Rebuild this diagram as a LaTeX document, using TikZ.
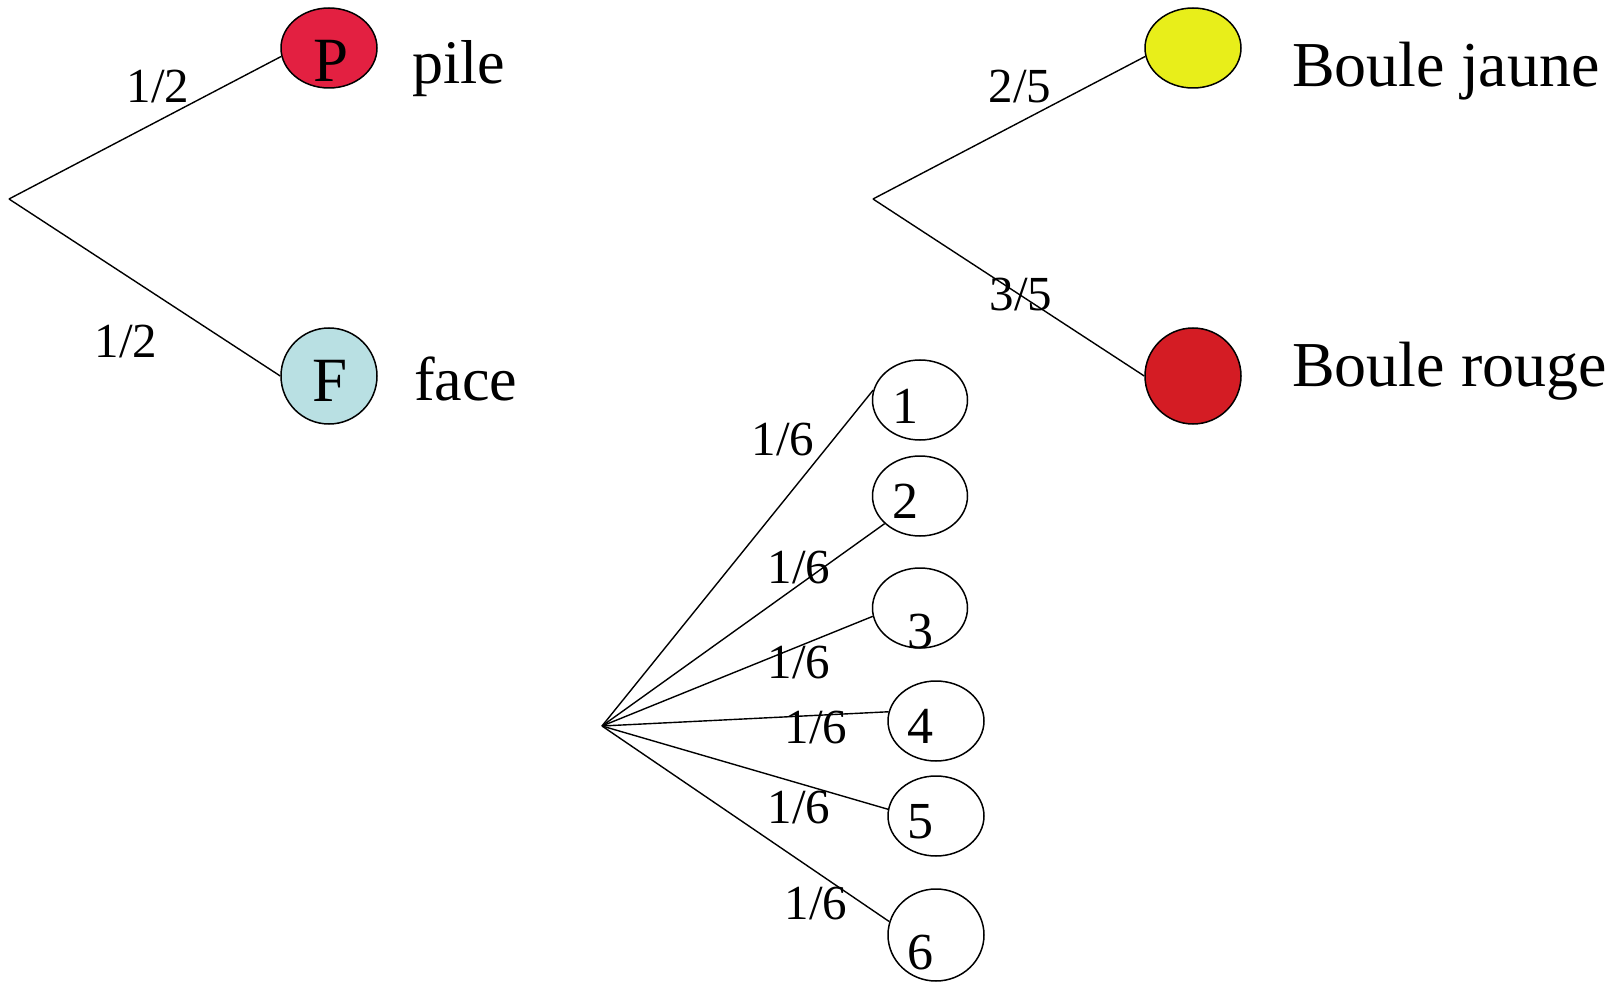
\documentclass[tikz,border=0pt]{standalone}
\usepackage{fontspec}
\setmainfont{Liberation Serif}
\usetikzlibrary{shapes.geometric}
\definecolor{pilered}{RGB}{227,32,65}
\definecolor{faceblue}{RGB}{185,224,227}
\definecolor{ballyellow}{RGB}{232,238,26}
\definecolor{ballred}{RGB}{212,28,36}
\begin{document}
\begin{tikzpicture}[x=1pt,y=-1pt,
  ball/.style={ellipse, draw, line width=1.5pt, inner sep=0pt, minimum width=96pt, minimum height=80pt},
  branch/.style={line width=1.4pt},
  prob/.style={anchor=base, inner sep=0pt, font=\fontsize{49}{58}\selectfont},
  inlbl/.style={anchor=base, inner sep=0pt, font=\fontsize{63}{74}\selectfont},
  digit/.style={anchor=base, inner sep=0pt, font=\fontsize{52}{62}\selectfont},
  side/.style={anchor=base west, inner sep=0pt, font=\fontsize{62}{74}\selectfont},
  bigside/.style={anchor=base west, inner sep=0pt, font=\fontsize{64}{77}\selectfont}
]
\useasboundingbox (0,0) rectangle (1615,984);

% ---------- coin tree ----------
\coordinate (r1) at (9,199);
\node[ball, fill=pilered] (P) at (329,48) {};
\node[ball, fill=faceblue, minimum height=96pt] (F) at (329,376) {};
\draw[branch] (r1) -- (P.190);
\draw[branch] (r1) -- (F.west);
\node[inlbl] (Pt) at (331,82) {P};
\node[inlbl] (Ft) at (330,402) {F};
\node[side] (pile) at (412,84) {pile};
\node[side] (face) at (414,400) {face};
\node[prob] (p1) at (158,103) {1/2};
\node[prob] (p2) at (126,358) {1/2};

% ---------- ball tree ----------
\coordinate (r2) at (873,199);
\node[ball, fill=ballyellow] (Y) at (1193,48) {};
\node[ball, fill=ballred, minimum height=96pt] (R) at (1193,376) {};
\draw[branch] (r2) -- (Y.190);
\draw[branch] (r2) -- (R.west);
\node[bigside] (bj) at (1292,87) {Boule jaune};
\node[bigside] (br) at (1292,387) {Boule rouge};
\node[prob] (q1) at (1020,103) {2/5};
\node[prob] (q2) at (1021,311) {3/5};

% ---------- die tree ----------
\coordinate (r3) at (602,726);
\node[ball, minimum width=95pt] (d1) at (920,400) {};
\node[ball, minimum width=95pt] (d2) at (920,496) {};
\node[ball, minimum width=95pt] (d3) at (920,608) {};
\node[ball] (d4) at (936,721) {};
\node[ball] (d5) at (936,816) {};
\node[ball, minimum height=92pt] (d6) at (936,935) {};
\draw[branch] (r3) -- (d1.168);
\draw[branch] (r3) -- (d2.218);
\draw[branch] (r3) -- (d3.190);
\draw[branch] (r3) -- (d4.169);
\draw[branch] (r3) -- (d5.172);
\draw[branch] (r3) -- (d6.164);
\node[digit] (t1) at (905,423) {1};
\node[digit] (t2) at (905,518) {2};
\node[digit] (t3) at (920,648) {3};
\node[digit] (t4) at (920,743) {4};
\node[digit] (t5) at (920,838) {5};
\node[digit] (t6) at (920,969) {6};
\node[prob] (s1) at (783,455) {1/6};
\node[prob] (s2) at (799,583) {1/6};
\node[prob] (s3) at (799,678) {1/6};
\node[prob] (s4) at (816,743) {1/6};
\node[prob] (s5) at (799,823) {1/6};
\node[prob] (s6) at (816,919) {1/6};
\end{tikzpicture}
\end{document}
